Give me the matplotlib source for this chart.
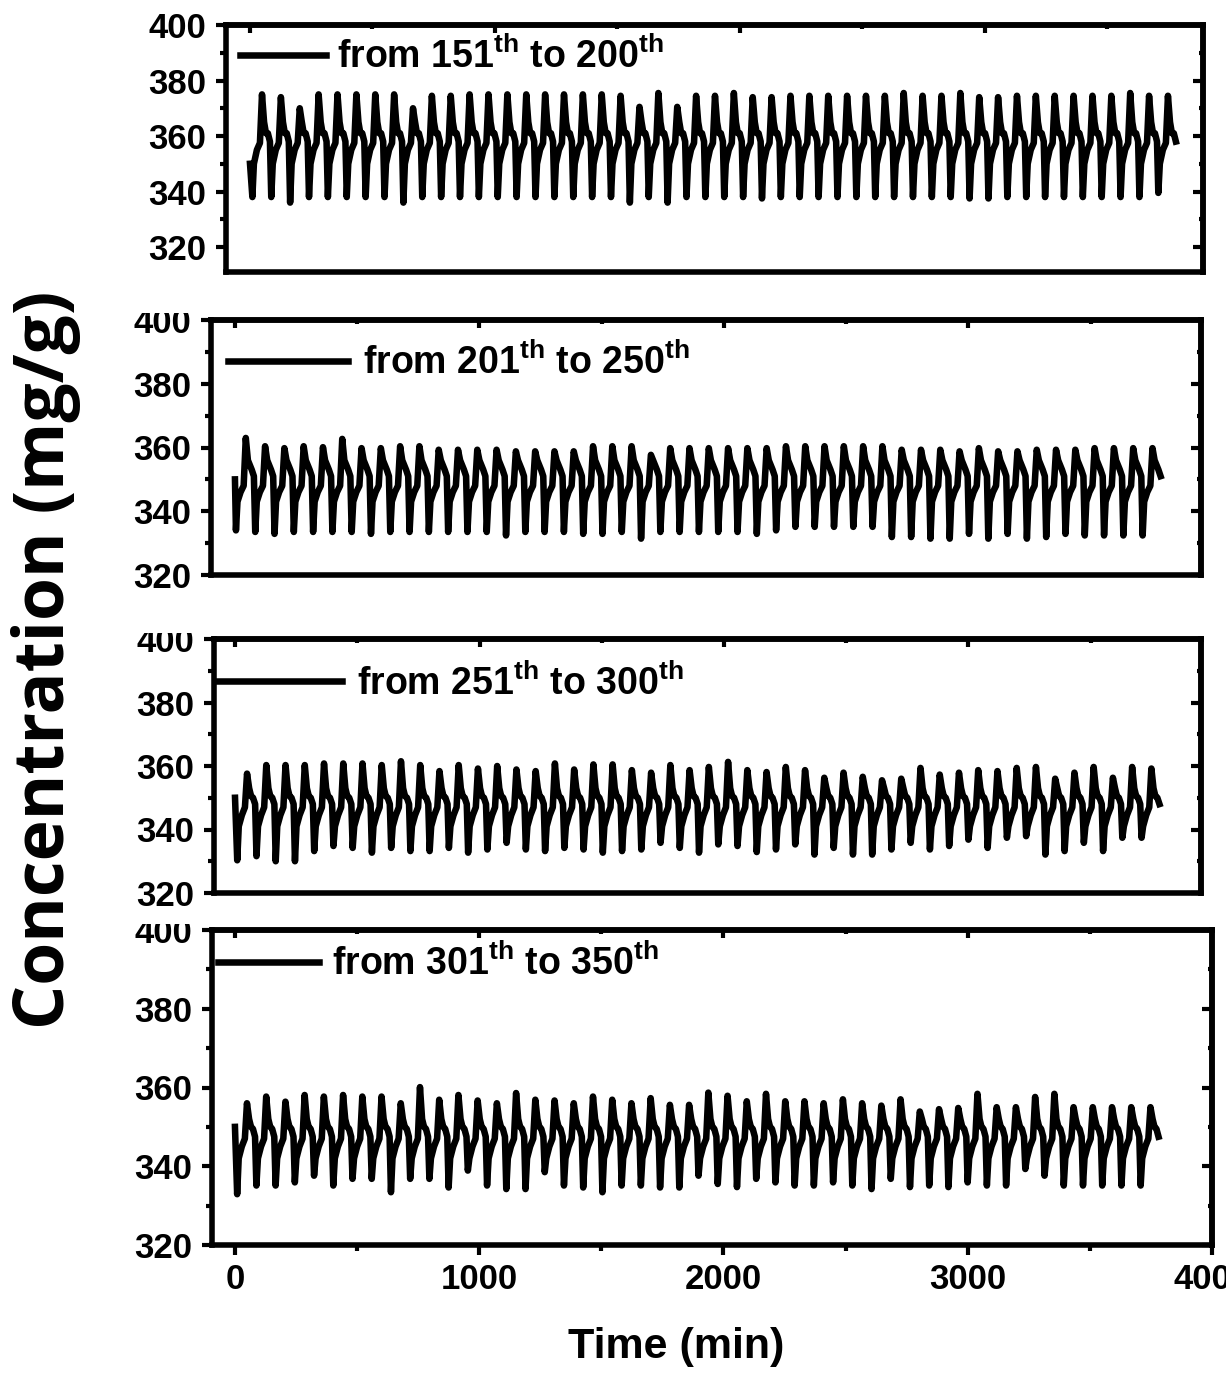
import numpy as np
import matplotlib.pyplot as plt
from matplotlib.ticker import MultipleLocator
from matplotlib.patches import Rectangle

plt.rcParams['font.family'] = ['Liberation Sans', 'DejaVu Sans']
plt.rcParams['font.weight'] = 'bold'
plt.rcParams['mathtext.default'] = 'regular'

# shape of one adsorption/desorption cycle (fraction of the period after the trough)
shape_frac = [0.08, 0.24, 0.40, 0.51, 0.62, 0.72, 0.82, 0.93]

labels = ["from 151$^{th}$ to 200$^{th}$",
          "from 201$^{th}$ to 250$^{th}$",
          "from 251$^{th}$ to 300$^{th}$",
          "from 301$^{th}$ to 350$^{th}$"]

# panel 1 : cycles 151-200
p1_start = 350
p1_first_trough = 9.7
p1_period = 77.06
p1_levels = [350, 355, 357.5, None, 365, 361, 361, 358]
p1_peaks = [375, 374, 370, 375, 375, 375, 375, 375, 370, 374.5, 374.5, 375, 375, 375, 375, 375, 375, 375, 375,
            374.5, 370.5, 375.5, 370.5, 374.5, 374.5, 375.5, 374, 374, 374.5, 374.5, 374.5, 374.5, 374.5, 374.5,
            375.5, 374.5, 374.5, 375.5, 374, 374, 374.5, 374.5, 374.5, 374.5, 374.5, 374.5, 375.5, 374.5, 374.5]
p1_troughs = [338, 338, 336, 338, 338, 338, 338, 338, 336, 338, 338, 338, 338, 338, 338, 338, 338, 338, 338, 338,
              336, 338, 336, 338, 338, 338, 338, 337.5, 338, 338, 338, 338, 338, 338, 338, 338, 338, 338,
              337.5, 337.5, 338, 338, 338, 338, 338, 338, 338, 338, 339.5]

# panel 2 : cycles 201-250
p2_start = 350
p2_first_trough = 4
p2_period = 78.9
p2_levels = [343, 346, 348, None, 356, 354.5, 353, 351]
p2_peaks = [363.0, 360.4, 359.8, 360.4, 360.1, 362.7, 359.8, 359.8, 360.4, 360.4, 359.3, 359.3, 359.3, 359.3,
            358.8, 358.8, 358.8, 358.8, 360.4, 360.4, 360.4, 357.7, 359.8, 359.8,
            359.8, 359.8, 359.8, 359.8, 360.4, 360.4, 360.4, 360.4, 360.4, 360.4, 359.3, 359.3, 359.3, 358.8,
            359.8, 358.8, 358.8, 359.3, 359.3, 359.3, 359.8, 359.8, 359.8, 359.8]
p2_troughs = [334.0, 333.5, 332.9, 333.5, 333.5, 333.5, 333.5, 332.9, 333.5, 333.5, 333.5, 333.5, 333.5, 333.5,
              332.4, 333.5, 333.5, 333.5, 332.9, 332.9, 333.5, 331.4, 333.5, 333.5, 333.5,
              333.5, 333.5, 332.9, 334.0, 335.1, 335.1, 335.1, 335.1, 335.1, 331.9, 331.9, 331.4, 331.4, 332.9,
              331.4, 332.9, 331.4, 331.9, 332.9, 332.4, 332.4, 332.4, 332.4]

# panel 3 : cycles 251-300
p3_start = 350
p3_first_trough = 9
p3_period = 78.7
p3_levels = [341, 344.5, 347, None, 353, 350.5, 350, 348]
p3_peaks = [357.6, 360.3, 360.3, 360.3, 360.8, 360.8, 360.8, 360.3, 361.5, 360.3, 358.4, 360.3, 359.2, 360.0,
            358.9, 358.4, 360.8, 358.9, 360.5, 360.5, 358.7, 357.9, 360.3, 358.7,
            359.7, 361.3, 358.7, 358.1, 359.7, 358.7, 356.3, 357.9, 356.6, 355.5, 356.0, 359.4, 357.3, 357.9,
            358.7, 358.4, 359.4, 359.7, 356.0, 357.9, 359.7, 356.3, 359.7, 359.2]
p3_troughs = [330.3, 331.6, 330.0, 330.0, 333.2, 334.8, 334.2, 332.7, 334.2, 333.2, 333.2, 334.2, 332.7, 333.7,
              335.8, 333.7, 333.2, 334.2, 333.7, 332.7, 333.2, 333.7, 335.8, 334.2, 332.7,
              335.3, 334.8, 332.9, 333.7, 335.3, 332.1, 334.2, 332.1, 332.1, 333.7, 335.8, 333.7, 334.8, 336.8,
              334.2, 337.4, 337.9, 332.1, 333.2, 335.8, 333.2, 337.4, 337.4]

# panel 4 : cycles 301-350
p4_start = 350
p4_first_trough = 9
p4_period = 78.7
p4_levels = [342, 345, 347, None, 352, 350, 349.5, 347.5]
p4_peaks = [356.0, 357.7, 356.4, 358.1, 357.7, 358.1, 357.7, 357.7, 356.0, 360.1, 356.9, 358.1, 356.7, 356.0,
            358.6, 356.9, 356.7, 356.0, 357.7, 356.9, 356.0, 357.3, 355.6, 355.6,
            358.7, 357.9, 356.5, 358.4, 356.5, 356.5, 356.0, 357.0, 356.0, 355.4, 357.0, 353.9, 354.5, 354.8,
            358.4, 355.0, 355.0, 357.6, 358.4, 355.0, 355.0, 355.0, 355.0, 355.0]
p4_troughs = [332.9, 335.1, 335.1, 335.9, 337.6, 335.1, 336.8, 336.8, 333.4, 336.8, 336.8, 334.6, 338.9, 335.1,
              334.2, 334.2, 338.5, 335.1, 334.6, 333.4, 335.1, 335.1, 334.6, 334.6, 337.6,
              335.5, 334.7, 336.8, 335.9, 335.1, 335.1, 335.9, 335.1, 334.2, 336.8, 334.7, 335.1, 334.7, 335.9,
              335.1, 335.1, 339.3, 337.6, 335.1, 335.1, 335.1, 335.1, 335.1]


def build_series(start, troughs, peaks, levels, t0, period):
    times = [0.0]
    vals = [start]
    for k in range(len(peaks)):
        base = t0 + k * period
        times.append(base)
        vals.append(troughs[k])
        for f, lev in zip(shape_frac, levels):
            times.append(base + f * period)
            vals.append(peaks[k] if lev is None else lev)
    return np.array(times), np.array(vals)


series = [
    build_series(p1_start, p1_troughs, p1_peaks, p1_levels, p1_first_trough, p1_period),
    build_series(p2_start, p2_troughs, p2_peaks, p2_levels, p2_first_trough, p2_period),
    build_series(p3_start, p3_troughs, p3_peaks, p3_levels, p3_first_trough, p3_period),
    build_series(p4_start, p4_troughs, p4_peaks, p4_levels, p4_first_trough, p4_period),
]

W, H = 1226, 1373
fig = plt.figure(figsize=(W / 100, H / 100), dpi=100)


def box(l, r, t, b):
    return [l / W, 1 - b / H, (r - l) / W, (b - t) / H]


# panel geometry in pixels (left, right, top, bottom), x-limits, y-limits
boxes = [box(226, 1203, 25, 272), box(211, 1201, 320, 575),
         box(214, 1201, 639, 893), box(212, 1212, 930, 1245)]
xlims = [(-98, 3891), (-98, 3951), (-86, 3951), (-94, 4000)]
ylims = [(311, 400), (320, 400), (320, 400), (320, 400)]
leg_pos = [(0.014, 0.870), (0.017, 0.830), (0.004, 0.825), (0.006, 0.893)]
leg_hl = [2.3, 3.2, 3.3, 2.7]
leg_pad = [0.3, 0.4, 0.4, 0.35]

spine_w = 4
for i, (t, v) in enumerate(series):
    ax = fig.add_axes(boxes[i])
    line, = ax.plot(t, v, color='black', lw=4.7, solid_joinstyle='round', label=labels[i])
    ax.set_xlim(*xlims[i])
    ax.set_ylim(*ylims[i])
    for s in ax.spines.values():
        s.set_linewidth(spine_w)
    ax.yaxis.set_major_locator(MultipleLocator(20))
    ax.yaxis.set_minor_locator(MultipleLocator(10))
    ax.xaxis.set_major_locator(MultipleLocator(1000))
    ax.xaxis.set_minor_locator(MultipleLocator(500))
    ax.tick_params(axis='y', which='both', direction='out', left=True, right=False,
                   labelsize=25, width=3, pad=7)
    ax.tick_params(axis='y', which='major', length=7)
    ax.tick_params(axis='y', which='minor', length=4)
    last = (i == 3)
    ax.tick_params(axis='x', which='both', direction='out', bottom=last, top=False,
                   labelbottom=last, labelsize=25, width=3, pad=6)
    ax.tick_params(axis='x', which='major', length=7)
    ax.tick_params(axis='x', which='minor', length=4)

    sy = ax.secondary_yaxis('right')
    sy.yaxis.set_major_locator(MultipleLocator(20))
    sy.yaxis.set_minor_locator(MultipleLocator(10))
    sy.tick_params(which='both', direction='in', labelright=False, width=3)
    sy.tick_params(which='major', length=7)
    sy.tick_params(which='minor', length=3)
    sy.spines['right'].set_linewidth(spine_w)

    sx = ax.secondary_xaxis('top')
    sx.xaxis.set_major_locator(MultipleLocator(1000))
    sx.xaxis.set_minor_locator(MultipleLocator(500))
    sx.tick_params(which='both', direction='in', labeltop=False, width=3)
    sx.tick_params(which='major', length=6)
    sx.tick_params(which='minor', length=3)
    sx.spines['top'].set_linewidth(spine_w)

    ax.legend(handles=[line], loc='center left', bbox_to_anchor=leg_pos[i], frameon=False,
              borderpad=0, borderaxespad=0, handlelength=leg_hl[i], handletextpad=leg_pad[i],
              fontsize=27)

# the top "400" labels of the lower panels are cut off in the original figure
for y1, y2, x2 in [(290, 313, 205), (606, 633, 207), (908, 924, 206)]:
    fig.add_artist(Rectangle((100 / W, 1 - y2 / H), (x2 - 100) / W, (y2 - y1) / H,
                             transform=fig.transFigure, facecolor='white', edgecolor='none', zorder=10))

fig.text(46 / W, 1 - 660 / H, 'Concentration (mg/g)', rotation=90, ha='center', va='center',
         fontsize=50, fontweight='bold', family=['Open Sans', 'DejaVu Sans'])
fig.text(676 / W, 1 - 1347 / H, 'Time (min)', ha='center', va='center', fontsize=31, fontweight='bold')

fig.savefig('out.png', dpi=100)
